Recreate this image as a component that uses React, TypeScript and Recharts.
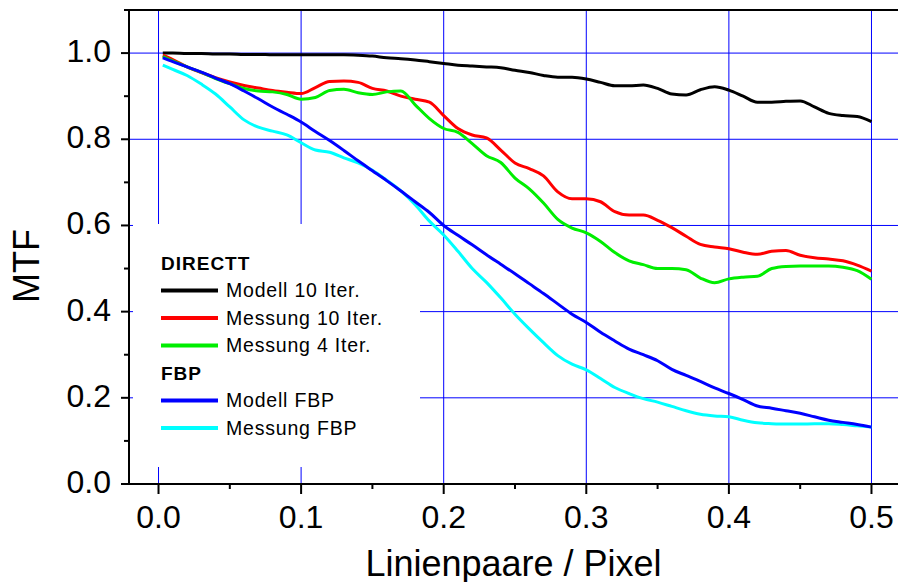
import { LineChart, Line, XAxis, YAxis, ReferenceLine, Legend } from "recharts";

const FONT = "'Liberation Sans', Arial, sans-serif";

// Linienpaare / Pixel
const freq = [
    0.003, 0.01, 0.02, 0.03, 0.04, 0.05, 0.06, 0.07, 0.08, 0.09, 0.1,
    0.11, 0.12, 0.13, 0.14, 0.15, 0.16, 0.17, 0.18, 0.19, 0.2,
    0.21, 0.22, 0.23, 0.24, 0.25, 0.26, 0.27, 0.28, 0.29, 0.3,
    0.31, 0.32, 0.33, 0.34, 0.35, 0.36, 0.37, 0.38, 0.39, 0.4,
    0.41, 0.42, 0.43, 0.44, 0.45, 0.46, 0.47, 0.48, 0.49, 0.5,
];

// DIRECTT
const modell10 = [
    1.0, 1.0, 0.999, 0.999, 0.998, 0.998, 0.997, 0.997, 0.996, 0.996, 0.996,
    0.996, 0.996, 0.996, 0.995, 0.993, 0.989, 0.987, 0.984, 0.98, 0.976,
    0.972, 0.97, 0.968, 0.966, 0.96, 0.955, 0.948, 0.944, 0.944, 0.94,
    0.932, 0.924, 0.924, 0.926, 0.918, 0.905, 0.903, 0.915, 0.922, 0.914,
    0.9, 0.886, 0.886, 0.888, 0.889, 0.875, 0.86, 0.855, 0.853, 0.841,
];
const messung10 = [
    0.995, 0.985, 0.968, 0.955, 0.943, 0.933, 0.925, 0.919, 0.913, 0.909, 0.906,
    0.92, 0.934, 0.935, 0.932, 0.918, 0.912, 0.9, 0.893, 0.886, 0.855,
    0.825, 0.81, 0.803, 0.775, 0.745, 0.732, 0.715, 0.678, 0.662, 0.662,
    0.655, 0.632, 0.624, 0.624, 0.612, 0.595, 0.575, 0.556, 0.55, 0.546,
    0.538, 0.533, 0.54, 0.542, 0.531, 0.525, 0.522, 0.518, 0.508, 0.494,
];
const messung4 = [
    0.992, 0.982, 0.968, 0.955, 0.941, 0.929, 0.918, 0.912, 0.91, 0.904, 0.893,
    0.897, 0.913, 0.916, 0.908, 0.904, 0.91, 0.912, 0.88, 0.848, 0.825,
    0.816, 0.79, 0.762, 0.746, 0.71, 0.685, 0.652, 0.614, 0.594, 0.583,
    0.563, 0.537, 0.518, 0.509, 0.5, 0.5, 0.497, 0.478, 0.467, 0.476,
    0.48, 0.482, 0.5, 0.505, 0.506, 0.506, 0.506, 0.503, 0.495, 0.475,
];

// FBP
const modellFbp = [
    0.989, 0.98, 0.968, 0.956, 0.942, 0.929, 0.912, 0.894, 0.875, 0.858, 0.84,
    0.818, 0.797, 0.774, 0.75, 0.727, 0.704, 0.68, 0.655, 0.63, 0.6,
    0.577, 0.555, 0.532, 0.51, 0.488, 0.465, 0.442, 0.418, 0.394, 0.375,
    0.352, 0.332, 0.313, 0.3, 0.286, 0.266, 0.252, 0.238, 0.223, 0.21,
    0.196, 0.181, 0.176, 0.17, 0.164, 0.156, 0.148, 0.143, 0.138, 0.132,
];
const messungFbp = [
    0.972, 0.962, 0.948, 0.928, 0.905, 0.875, 0.845, 0.828, 0.819, 0.81, 0.792,
    0.775, 0.77, 0.757, 0.745, 0.728, 0.705, 0.68, 0.648, 0.61, 0.578,
    0.54, 0.5, 0.468, 0.432, 0.394, 0.36, 0.328, 0.298, 0.278, 0.265,
    0.245, 0.224, 0.21, 0.198, 0.19, 0.18, 0.17, 0.162, 0.158, 0.156,
    0.148, 0.142, 0.14, 0.139, 0.139, 0.14, 0.14, 0.138, 0.135, 0.132,
];

const xMajor = [0, 0.1, 0.2, 0.3, 0.4, 0.5];
const xMinor = [0.05, 0.15, 0.25, 0.35, 0.45];
const yMajor = [0, 0.2, 0.4, 0.6, 0.8, 1.0];
const yMinor = [0.1, 0.3, 0.5, 0.7, 0.9, 1.1];

const groups = [
    {
        title: "DIRECTT",
        items: [
            { key: "modell10", name: "Modell 10 Iter.", color: "#000000" },
            { key: "messung10", name: "Messung 10 Iter.", color: "#ff0000" },
            { key: "messung4", name: "Messung 4 Iter.", color: "#00ee00" },
        ],
    },
    {
        title: "FBP",
        items: [
            { key: "modellFbp", name: "Modell FBP", color: "#0000ff" },
            { key: "messungFbp", name: "Messung FBP", color: "#00ffff" },
        ],
    },
];

// drawing order: cyan below blue
const drawOrder = ["modell10", "messung10", "messung4", "messungFbp", "modellFbp"];

const data = freq.map((f, i) => ({
    f,
    modell10: modell10[i],
    messung10: messung10[i],
    messung4: messung4[i],
    modellFbp: modellFbp[i],
    messungFbp: messungFbp[i],
}));

const allSeries = groups.flatMap((g) => g.items);

function XTick({ x, y, payload }: any) {
    const major = xMajor.includes(payload.value);
    return (
        <g>
            <line x1={x} x2={x} y1={y} y2={y + (major ? 10 : 5)} stroke="#000" strokeWidth={2} />
            {major && (
                <text x={x} y={y + 44} textAnchor="middle" fontSize={32} fontFamily={FONT} fill="#000">
                    {payload.value.toFixed(1)}
                </text>
            )}
        </g>
    );
}

function YTick({ x, y, payload }: any) {
    const major = yMajor.includes(payload.value);
    return (
        <g>
            <line x1={x - (major ? 8 : 5)} x2={x} y1={y} y2={y} stroke="#000" strokeWidth={2} />
            {major && (
                <text x={x - 18} y={y + 9} textAnchor="end" fontSize={32} fontFamily={FONT} fill="#000">
                    {payload.value.toFixed(1)}
                </text>
            )}
        </g>
    );
}

function LegendBox() {
    let slot = 0;
    const rows: any[] = [];
    groups.forEach((g) => {
        const base = 45.5 + 27.5 * slot++;
        rows.push(
            <text key={g.title} x={28} y={base} fontSize={19} fontWeight="bold" letterSpacing={1} fontFamily={FONT}>
                {g.title}
            </text>
        );
        g.items.forEach((it) => {
            const b = 45.5 + 27.5 * slot++;
            rows.push(
                <g key={it.key}>
                    <line x1={28} x2={85} y1={b - 6.5} y2={b - 6.5} stroke={it.color} strokeWidth={4} />
                    <text x={93} y={b} fontSize={19.5} letterSpacing={0.8} fontFamily={FONT}>
                        {it.name}
                    </text>
                </g>
            );
        });
    });
    return (
        <svg width={287} height={243} style={{ display: "block" }}>
            {rows}
        </svg>
    );
}

export default function App() {
    return (
        <div
            style={{
                position: "fixed",
                left: 0,
                top: 0,
                width: 898,
                height: 582,
                overflow: "hidden",
                background: "#fff",
            }}
        >
            <LineChart width={898} height={582} data={data} margin={{ top: 10, right: 0, bottom: 0, left: 0 }}>
                <XAxis
                    dataKey="f"
                    type="number"
                    domain={[-0.0207, 0.5186]}
                    allowDataOverflow
                    ticks={[...xMajor, ...xMinor]}
                    interval={0}
                    tickSize={0}
                    tickMargin={0}
                    tickLine={false}
                    tick={<XTick />}
                    height={98}
                    axisLine={{ stroke: "#000", strokeWidth: 2 }}
                    label={({ viewBox }: any) => (
                        <text
                            x={viewBox.x + viewBox.width / 2}
                            y={viewBox.y + 92}
                            textAnchor="middle"
                            fontSize={36}
                            fontFamily={FONT}
                        >
                            Linienpaare / Pixel
                        </text>
                    )}
                />
                <YAxis
                    type="number"
                    domain={[0, 1.1]}
                    allowDataOverflow
                    ticks={[...yMajor, ...yMinor]}
                    interval={0}
                    tickSize={0}
                    tickMargin={0}
                    tickLine={false}
                    tick={<YTick />}
                    width={129}
                    axisLine={{ stroke: "#000", strokeWidth: 2 }}
                    label={({ viewBox }: any) => {
                        const cx = viewBox.x + 26;
                        const cy = 266;
                        return (
                            <text
                                x={cx}
                                y={cy}
                                transform={`rotate(-90, ${cx}, ${cy})`}
                                textAnchor="middle"
                                dominantBaseline="central"
                                fontSize={36}
                                fontFamily={FONT}
                            >
                                MTF
                            </text>
                        );
                    }}
                />
                {xMajor.map((v) => (
                    <ReferenceLine key={"gx" + v} x={v} stroke="#0000ff" strokeWidth={1} />
                ))}
                {yMajor.slice(1).map((v) => (
                    <ReferenceLine key={"gy" + v} y={v} stroke="#0000ff" strokeWidth={1} />
                ))}
                <ReferenceLine y={1.1} stroke="#000" strokeWidth={2} />
                {drawOrder.map((k) => {
                    const s = allSeries.find((it) => it.key === k)!;
                    return (
                        <Line
                            key={k}
                            dataKey={k}
                            name={s.name}
                            type="monotone"
                            stroke={s.color}
                            strokeWidth={3}
                            dot={false}
                            isAnimationActive={false}
                        />
                    );
                })}
                <Legend
                    layout="vertical"
                    align="center"
                    verticalAlign="middle"
                    width={287}
                    height={243}
                    wrapperStyle={{ left: 133, top: 224, width: 287, height: 243, background: "#fff" }}
                    content={() => <LegendBox />}
                />
            </LineChart>
        </div>
    );
}
